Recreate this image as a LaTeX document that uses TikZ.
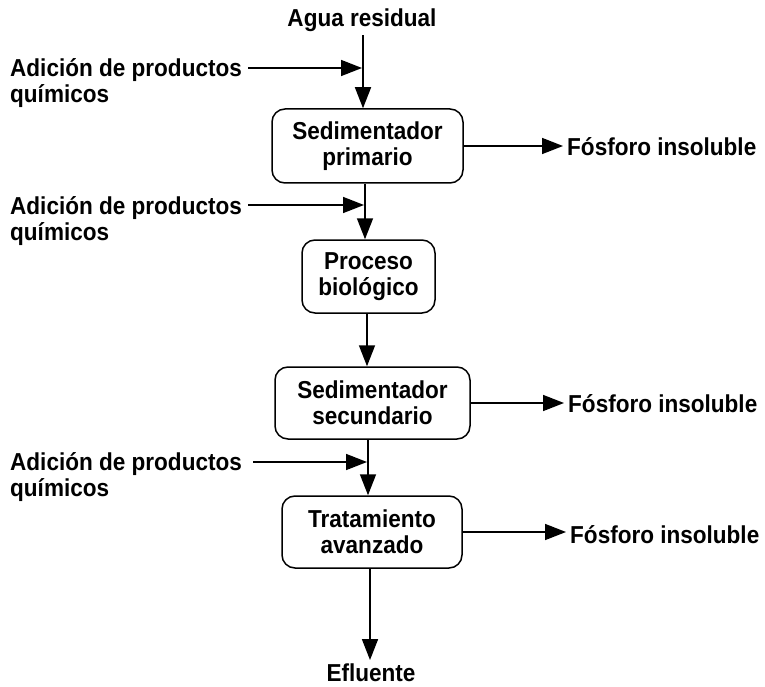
\documentclass[tikz,border=0pt]{standalone}
\usepackage{fontspec}
\setmainfont{Liberation Sans}[FakeStretch=0.92]
\usetikzlibrary{arrows.meta,calc}
\begin{document}
\begin{tikzpicture}[x=1pt,y=-1pt,
  every node/.style={font=\fontsize{24.5}{26}\selectfont\bfseries},
  proc/.style={draw, line width=1.5pt, rounded corners=13pt, align=center, inner sep=0pt},
  lbl/.style={inner sep=0pt, align=left},
  txt/.style={inner sep=3pt},
  flow/.style={line width=1.6pt, -{Triangle[length=21pt,width=16pt]}},
]
\useasboundingbox (0,0) rectangle (765,687);

% process boxes
\node[proc, minimum width=191pt, minimum height=74pt] (b1) at (367.5,146) {Sedimentador\\primario};
\node[proc, minimum width=133pt, minimum height=73pt] (b2) at (368.5,276.5) {Proceso\\biológico};
\node[proc, minimum width=195pt, minimum height=72pt] (b3) at (372.5,403) {Sedimentador\\secundario};
\node[proc, minimum width=180pt, minimum height=72pt] (b4) at (372,532) {Tratamiento\\avanzado};

% inlet / outlet labels
\node[txt, anchor=base] (agua) at (362,27) {Agua residual};
\node[txt, anchor=base] (efl) at (371,681) {Efluente};

% chemical additions (base = baseline of the last line)
\node[lbl, anchor=base west] (q1) at (10,103) {Adición de productos\\químicos};
\node[lbl, anchor=base west] (q2) at (10,240) {Adición de productos\\químicos};
\node[lbl, anchor=base west] (q3) at (10,496) {Adición de productos\\químicos};

% outputs
\node[inner sep=0pt, anchor=base west] (f1) at (567,156) {Fósforo insoluble};
\node[inner sep=0pt, anchor=base west] (f2) at (568,412) {Fósforo insoluble};
\node[inner sep=0pt, anchor=base west] (f3) at (570,543) {Fósforo insoluble};

% columns of the main flow
\coordinate (x1) at (363,0);
\coordinate (x2) at (365,0);
\coordinate (x3) at (367,0);
\coordinate (x4) at (368,0);
\coordinate (x5) at (370,0);
% heights of the side arrows
\coordinate (y1) at (0,68);
\coordinate (y2) at (0,205);
\coordinate (y3) at (0,462);

% main flow
\draw[flow] (agua.south -| x1) -- (b1.north -| x1);
\draw[flow] (b1.south -| x2) -- (b2.north -| x2);
\draw[flow] (b2.south -| x3) -- (b3.north -| x3);
\draw[flow] (b3.south -| x4) -- (b4.north -| x4);
\draw[flow] (b4.south -| x5) -- (efl.north -| x5);

% chemical addition arrows
\draw[flow] ($(q1.east |- y1)+(6,0)$) -- ($(x1 |- y1)+(-1,0)$);
\draw[flow] ($(q2.east |- y2)+(6,0)$) -- ($(x2 |- y2)+(-1,0)$);
\draw[flow] ($(q3.east |- y3)+(11,0)$) -- ($(x4 |- y3)+(-1,0)$);

% outputs
\draw[flow] (b1.east) -- ($(f1.west |- b1.east)+(-4,0)$);
\draw[flow] (b3.east) -- ($(f2.west |- b3.east)+(-4,0)$);
\draw[flow] (b4.east) -- ($(f3.west |- b4.east)+(-4,0)$);
\end{tikzpicture}
\end{document}
